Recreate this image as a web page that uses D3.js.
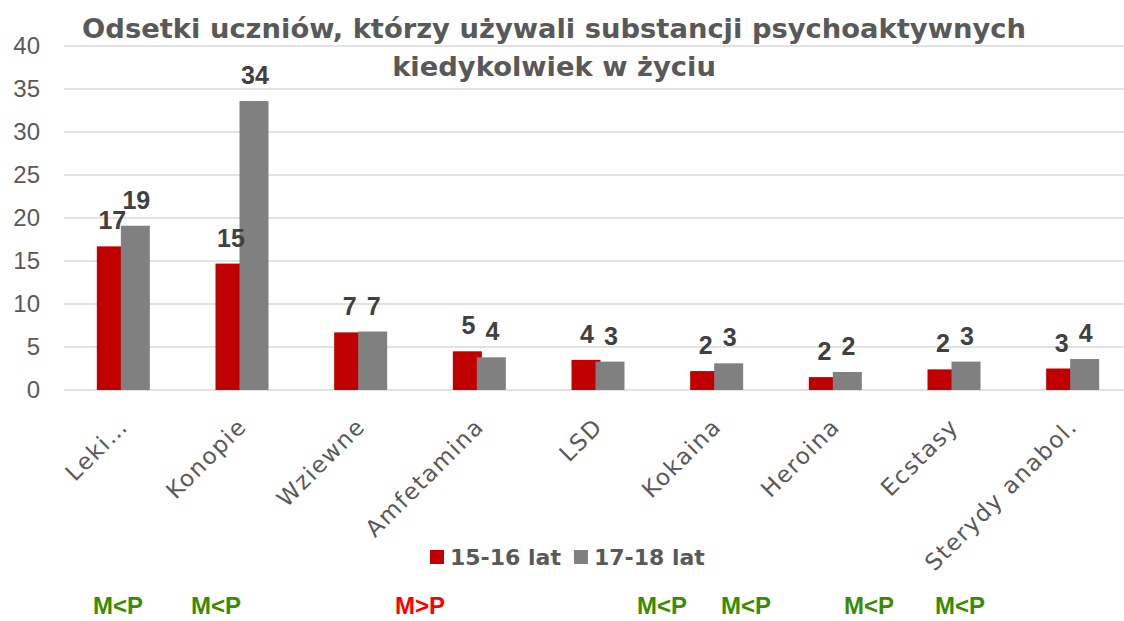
<!DOCTYPE html>
<html>
<head>
<meta charset="utf-8">
<script src="https://cdn.jsdelivr.net/npm/d3@7"></script>
<style>
  body { margin: 0; background: #fff; }
  svg { display: block; }
</style>
</head>
<body>
<div id="chart"></div>
<script>
// data
const categories = ["Leki…", "Konopie", "Wziewne", "Amfetamina", "LSD", "Kokaina", "Heroina", "Ecstasy", "Sterydy anabol."];
const series = ["15-16 lat", "17-18 lat"];
const young = [16.7, 14.7, 6.7, 4.5, 3.5, 2.2, 1.5, 2.4, 2.5];
const older = [19.1, 33.6, 6.8, 3.8, 3.3, 3.1, 2.1, 3.3, 3.6];
const yTicks = [0, 5, 10, 15, 20, 25, 30, 35, 40];
const titleLines = ["Odsetki uczniów, którzy używali substancji psychoaktywnych", "kiedykolwiek w życiu"];
const notes = ["M<P", "M<P", "M>P", "M<P", "M<P", "M<P", "M<P"];

// layout
const width = 1124, height = 621;
const notePos = [118, 216, 420, 662, 746, 869, 960];
const colors = {"15-16 lat": "#c00000", "17-18 lat": "#808080"};

const svg = d3.select("#chart").append("svg").attr("width", width).attr("height", height);

const x0 = d3.scaleBand().domain(categories).range([64, 1132]);
const x1 = d3.scalePoint().domain(series).range([-12, 12]);
const barW = 29;
const y = d3.scaleLinear().domain([0, 40]).range([390, 46]);

// gridlines
svg.append("g").selectAll("line").data(yTicks).enter().append("line")
    .attr("x1", 64).attr("x2", width)
    .attr("y1", d => y(d)).attr("y2", d => y(d))
    .attr("stroke", "#d9d9d9").attr("stroke-width", 1.5);

// y axis labels
const yAxis = svg.append("g").attr("transform", "translate(52,0)")
    .call(d3.axisLeft(y).tickValues(yTicks).tickSize(0).tickPadding(12));
yAxis.select(".domain").remove();
yAxis.selectAll("text").attr("font-family", "Liberation Sans").attr("font-size", 24).attr("fill", "#595959");

// title - size fitted so line 1 matches the reference width
const title = svg.append("g").selectAll("text").data(titleLines).enter().append("text")
    .attr("x", 554).attr("y", (d, i) => 38 + i * 38)
    .attr("text-anchor", "middle")
    .attr("font-family", "DejaVu Sans").attr("font-weight", "bold").attr("font-size", 27)
    .attr("fill", "#595959")
    .text(d => d);
let tw = title.node().getComputedTextLength();
title.attr("font-size", 27 * 944 / tw);

// bars
const rows = categories.map((c, i) => ({cat: c, vals: [{s: series[0], v: young[i]}, {s: series[1], v: older[i]}]}));
const groups = svg.append("g").selectAll("g").data(rows).enter().append("g")
    .attr("transform", d => `translate(${x0(d.cat) + x0.bandwidth() / 2},0)`);

groups.selectAll("rect").data(d => d.vals).enter().append("rect")
    .attr("x", d => x1(d.s) - barW / 2)
    .attr("y", d => y(d.v))
    .attr("width", barW)
    .attr("height", d => y(0) - y(d.v))
    .attr("fill", d => colors[d.s]);

// value labels
groups.selectAll("text").data(d => d.vals).enter().append("text")
    .attr("x", d => x1(d.s) + 1)
    .attr("y", d => y(d.v) - 17)
    .attr("text-anchor", "middle")
    .attr("font-family", "Liberation Sans").attr("font-weight", "bold").attr("font-size", 25)
    .attr("fill", "#404040")
    .text(d => Math.round(d.v));

// category labels
svg.append("g").selectAll("text").data(categories).enter().append("text")
    .attr("transform", d => `translate(${x0(d) + x0.bandwidth() / 2 + 6},428) rotate(-45)`)
    .attr("text-anchor", "end")
    .attr("font-family", "DejaVu Sans").attr("font-size", 23)
    .attr("letter-spacing", 1.5)
    .attr("fill", "#595959")
    .text(d => d);

// legend
const legend = svg.append("g").attr("font-family", "DejaVu Sans").attr("font-weight", "bold").attr("font-size", 22);
let lx = 430;
series.forEach(s => {
    legend.append("rect").attr("x", lx).attr("y", 550).attr("width", 14).attr("height", 14).attr("fill", colors[s]);
    let t = legend.append("text").attr("x", lx + 20).attr("y", 565).attr("fill", "#595959").text(s);
    lx += 20 + t.node().getComputedTextLength() + 13;
});

// M<P / M>P notes
svg.append("g").selectAll("text").data(notes).enter().append("text")
    .attr("x", (d, i) => notePos[i]).attr("y", 614)
    .attr("text-anchor", "middle")
    .attr("font-family", "Liberation Sans").attr("font-weight", "bold").attr("font-size", 24)
    .attr("fill", d => d === "M>P" ? "#ff0000" : "#3a8b00")
    .text(d => d);
</script>
</body>
</html>
